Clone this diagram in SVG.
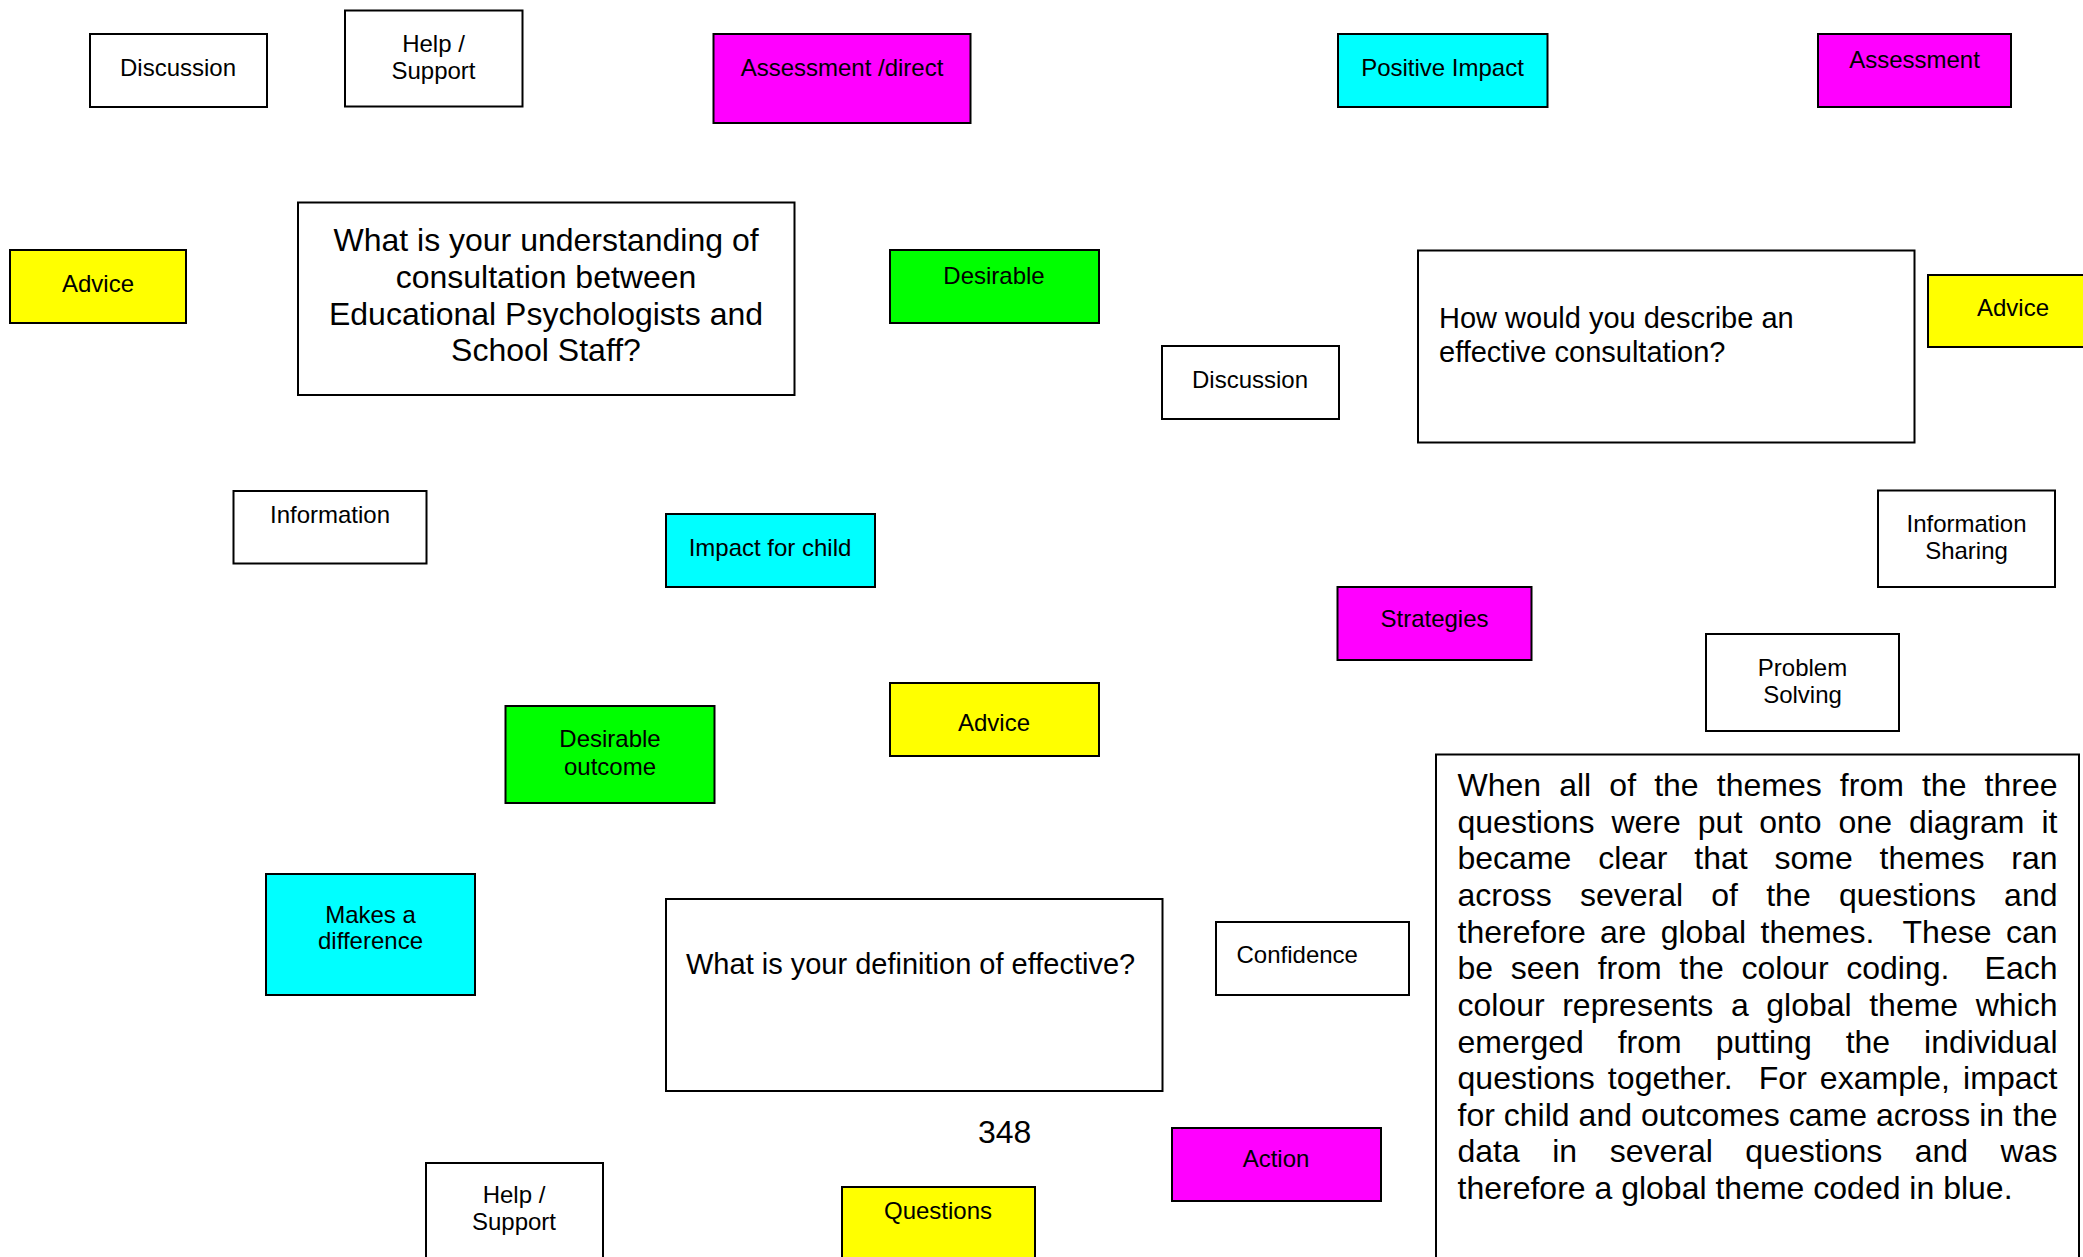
<svg xmlns="http://www.w3.org/2000/svg" width="2083" height="1257" viewBox="0 0 2083 1257">
  <style>
    .box { stroke: #000; stroke-width: 2; }
    .plain { fill: #fff; }
    .mag { fill: #ff00ff; }
    .cyan { fill: #00ffff; }
    .green { fill: #00ff00; }
    .yellow { fill: #ffff00; }
    text { font-family: "Liberation Sans", Arial, sans-serif; fill: #000; }
    .lbl { font-size: 24px; text-anchor: middle; }
    .lbl-l { font-size: 24px; }
    .q32 { font-size: 32px; text-anchor: middle; }
    .q29 { font-size: 29px; }
    .para { font-size: 32px; }
    .para text { white-space: pre; }
  </style>
  <rect x="0" y="0" width="2083" height="1257" fill="#fff"/>

  <!-- no links between themes -->
  <g id="connectors"/>

  <g id="discussion-top">
    <rect class="box plain" x="90" y="34" width="177" height="73"/>
    <text class="lbl" x="178" y="76">Discussion</text>
  </g>

  <g id="help-support-top">
    <rect class="box plain" x="345" y="10.5" width="177.5" height="96"/>
    <text class="lbl" x="433.5" y="52">Help /</text>
    <text class="lbl" x="433.5" y="79">Support</text>
  </g>

  <g id="assessment-direct">
    <rect class="box mag" x="713.5" y="34" width="257" height="89"/>
    <text class="lbl" x="842" y="76">Assessment /direct</text>
  </g>

  <g id="positive-impact">
    <rect class="box cyan" x="1338" y="34" width="209.5" height="73"/>
    <text class="lbl" x="1442.5" y="76">Positive Impact</text>
  </g>

  <g id="assessment-right">
    <rect class="box mag" x="1818" y="34" width="193" height="73"/>
    <text class="lbl" x="1914.5" y="68">Assessment</text>
  </g>

  <g id="question-understanding">
    <rect class="box plain" x="298" y="202.5" width="496.5" height="192.5"/>
    <text class="q32" x="546" y="251">What is your understanding of</text>
    <text class="q32" x="546" y="288">consultation between</text>
    <text class="q32" x="546" y="324.5">Educational Psychologists and</text>
    <text class="q32" x="546" y="361">School Staff?</text>
  </g>

  <g id="advice-left">
    <rect class="box yellow" x="10" y="250" width="176" height="73"/>
    <text class="lbl" x="98" y="292">Advice</text>
  </g>

  <g id="desirable">
    <rect class="box green" x="890" y="250" width="209" height="73"/>
    <text class="lbl" x="994" y="284">Desirable</text>
  </g>

  <g id="question-describe">
    <rect class="box plain" x="1418" y="250.5" width="496.5" height="192"/>
    <text class="q29" x="1439" y="327.5">How would you describe an</text>
    <text class="q29" x="1439" y="361.5">effective consultation?</text>
  </g>

  <g id="advice-right">
    <rect class="box yellow" x="1928" y="275" width="172" height="72"/>
    <text class="lbl" x="2013" y="315.5">Advice</text>
  </g>

  <g id="discussion-middle">
    <rect class="box plain" x="1162" y="346" width="177" height="73"/>
    <text class="lbl" x="1250" y="387.5">Discussion</text>
  </g>

  <g id="information">
    <rect class="box plain" x="233.5" y="491" width="193" height="72.5"/>
    <text class="lbl" x="330" y="523">Information</text>
  </g>

  <g id="impact-for-child">
    <rect class="box cyan" x="666" y="514" width="209" height="73"/>
    <text class="lbl" x="770" y="555.5">Impact for child</text>
  </g>

  <g id="information-sharing">
    <rect class="box plain" x="1878" y="490.5" width="177" height="96.5"/>
    <text class="lbl" x="1966.5" y="531.5">Information</text>
    <text class="lbl" x="1966.5" y="559">Sharing</text>
  </g>

  <g id="strategies">
    <rect class="box mag" x="1337.5" y="587" width="194" height="73"/>
    <text class="lbl" x="1434.5" y="627">Strategies</text>
  </g>

  <g id="problem-solving">
    <rect class="box plain" x="1706" y="634" width="193" height="97"/>
    <text class="lbl" x="1802.5" y="675.5">Problem</text>
    <text class="lbl" x="1802.5" y="703">Solving</text>
  </g>

  <g id="desirable-outcome">
    <rect class="box green" x="505.5" y="706" width="209" height="97"/>
    <text class="lbl" x="610" y="747">Desirable</text>
    <text class="lbl" x="610" y="774.5">outcome</text>
  </g>

  <g id="advice-middle">
    <rect class="box yellow" x="890" y="683" width="209" height="73"/>
    <text class="lbl" x="994" y="731">Advice</text>
  </g>

  <g id="makes-a-difference">
    <rect class="box cyan" x="266" y="874" width="209" height="121"/>
    <text class="lbl" x="370.5" y="922.5">Makes a</text>
    <text class="lbl" x="370.5" y="949">difference</text>
  </g>

  <g id="question-definition">
    <rect class="box plain" x="666" y="899" width="496.5" height="192"/>
    <text class="q29" x="686" y="973.5">What is your definition of effective?</text>
  </g>

  <g id="confidence">
    <rect class="box plain" x="1216" y="922" width="193" height="73"/>
    <text class="lbl-l" x="1236.5" y="963">Confidence</text>
  </g>

  <g id="page-number">
    <text class="para" x="978" y="1143">348</text>
  </g>

  <g id="action">
    <rect class="box mag" x="1172" y="1128" width="209" height="73"/>
    <text class="lbl" x="1276" y="1167">Action</text>
  </g>

  <g id="help-support-bottom">
    <rect class="box plain" x="426" y="1163" width="177" height="120"/>
    <text class="lbl" x="514" y="1203">Help /</text>
    <text class="lbl" x="514" y="1230">Support</text>
  </g>

  <g id="questions">
    <rect class="box yellow" x="842" y="1187" width="193" height="100"/>
    <text class="lbl" x="938" y="1219">Questions</text>
  </g>

  <!-- explanatory note, justified lines -->
  <g id="note">
    <rect class="box plain" x="1436" y="754.5" width="643" height="530"/>
    <g class="para">
      <text x="1457.5" y="796" word-spacing="9.23" textLength="600" lengthAdjust="spacing" xml:space="preserve">When all of the themes from the three</text>
      <text x="1457.5" y="832.6" word-spacing="8.10" textLength="600" lengthAdjust="spacing" xml:space="preserve">questions were put onto one diagram it</text>
      <text x="1457.5" y="869.3" word-spacing="17.92" textLength="600" lengthAdjust="spacing" xml:space="preserve">became clear that some themes ran</text>
      <text x="1457.5" y="905.9" word-spacing="19.32" textLength="600" lengthAdjust="spacing" xml:space="preserve">across several of the questions and</text>
      <text x="1457.5" y="942.6" word-spacing="5.43" textLength="600" lengthAdjust="spacing" xml:space="preserve">therefore are global themes.  These can</text>
      <text x="1457.5" y="979.2" word-spacing="8.73" textLength="600" lengthAdjust="spacing" xml:space="preserve">be seen from the colour coding.  Each</text>
      <text x="1457.5" y="1015.8" word-spacing="8.66" textLength="600" lengthAdjust="spacing" xml:space="preserve">colour represents a global theme which</text>
      <text x="1457.5" y="1052.5" word-spacing="25.05" textLength="600" lengthAdjust="spacing" xml:space="preserve">emerged from putting the individual</text>
      <text x="1457.5" y="1089.1" word-spacing="4.04" textLength="600" lengthAdjust="spacing" xml:space="preserve">questions together.  For example, impact</text>
      <text x="1457.5" y="1125.8" textLength="600" lengthAdjust="spacing" xml:space="preserve">for child and outcomes came across in the</text>
      <text x="1457.5" y="1162.4" word-spacing="23.6" textLength="600" lengthAdjust="spacing" xml:space="preserve">data in several questions and was</text>
      <text x="1457.5" y="1199" xml:space="preserve">therefore a global theme coded in blue.</text>
    </g>
  </g>
</svg>
